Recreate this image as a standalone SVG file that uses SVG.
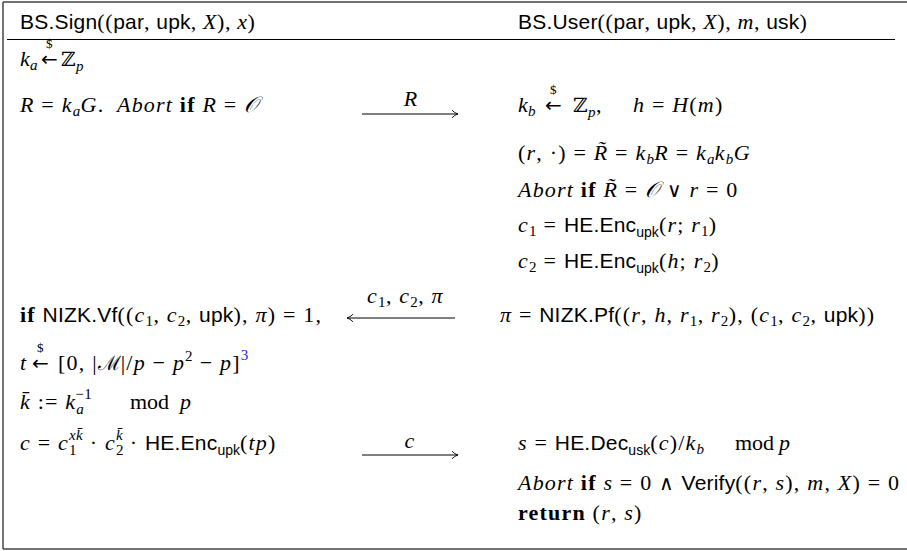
<svg xmlns="http://www.w3.org/2000/svg" width="907" height="551" viewBox="0 0 907 551">
<style>
text{fill:#000;font-family:"Liberation Serif",serif;font-size:22px;letter-spacing:1.2px}
.hd{letter-spacing:0.6px}
.m{font-style:italic}
.s{font-family:"Liberation Sans",sans-serif;font-size:21px;letter-spacing:0.2px}
.b{font-weight:bold}
.sub{font-size:15px;letter-spacing:0.4px}
.ss{font-family:"Liberation Sans",sans-serif;font-size:14px;letter-spacing:0}
.sym{font-family:"DejaVu Serif",serif;font-size:20px;letter-spacing:0}
.op{font-family:"DejaVu Serif",serif;font-size:20px;font-style:normal}
.ar{font-family:"DejaVu Sans",sans-serif;font-size:20px;letter-spacing:0}
.dol{font-size:13px;letter-spacing:0}
.md{letter-spacing:0}
.cite{fill:#1a1aff;font-size:15px}
.frame{stroke:#444;stroke-width:1.5;fill:none}
.conn line{stroke:#000;stroke-width:1}
</style>
<defs>
<marker id="ah" markerWidth="10" markerHeight="10" refX="8" refY="5" orient="auto" markerUnits="userSpaceOnUse">
<path d="M2,1.2 Q4.8,4.2 8,5 Q4.8,5.8 2,8.8" fill="none" stroke="#000" stroke-width="0.9"/>
</marker>
</defs>
<g id="frame">
<line class="frame" x1="3" y1="2" x2="907" y2="2"/>
<line class="frame" x1="3" y1="2" x2="3" y2="549"/>
<line class="frame" x1="3" y1="549" x2="907" y2="549"/>
<line x1="7" y1="39.5" x2="895" y2="39.5" stroke="#000" stroke-width="1"/>
</g>
<g id="signer">
<text class="hd" y="29"><tspan class="s" x="20">BS.Sign</tspan><tspan>((</tspan><tspan class="s">par</tspan><tspan>, </tspan><tspan class="s">upk</tspan><tspan>, </tspan><tspan class="m">X</tspan><tspan>), </tspan><tspan class="m">x</tspan><tspan>)</tspan></text>
<text y="66"><tspan class="m" x="20">k</tspan><tspan class="m sub" x="30" y="70">a</tspan><tspan class="ar" x="41" y="66">←</tspan><tspan class="dol" x="46" y="48">$</tspan><tspan class="sym" x="61" y="66">ℤ</tspan><tspan class="m sub" x="76" y="71">p</tspan></text>
<text y="112"><tspan class="m" x="20">R</tspan><tspan> = </tspan><tspan class="m">k</tspan><tspan class="m sub" y="116">a</tspan><tspan class="m" y="112">G</tspan><tspan>.</tspan><tspan class="m" x="117">Abort</tspan><tspan> </tspan><tspan class="b">if</tspan><tspan> </tspan><tspan class="m">R</tspan><tspan> = </tspan><tspan class="m">𝒪</tspan></text>
<text y="322"><tspan class="b" x="20">if</tspan><tspan> </tspan><tspan class="s">NIZK.Vf</tspan><tspan>((</tspan><tspan class="m">c</tspan><tspan class="sub" y="326">1</tspan><tspan y="322">, </tspan><tspan class="m">c</tspan><tspan class="sub" y="326">2</tspan><tspan y="322">, </tspan><tspan class="s">upk</tspan><tspan>), </tspan><tspan class="m">π</tspan><tspan>) = 1,</tspan></text>
<text y="370"><tspan class="m" x="20">t</tspan><tspan class="ar" x="32">←</tspan><tspan class="dol" x="37" y="352">$</tspan><tspan x="58" y="370">[0, |</tspan><tspan class="sym">ℳ</tspan><tspan>|/</tspan><tspan class="m">p</tspan><tspan> − </tspan><tspan class="m">p</tspan><tspan class="sub" y="361">2</tspan><tspan y="370"> − </tspan><tspan class="m">p</tspan><tspan>]</tspan><tspan class="cite" y="360">3</tspan></text>
<text y="409"><tspan class="m" x="20">k̄</tspan><tspan> := </tspan><tspan class="m">k</tspan><tspan class="m sub" y="414">a</tspan><tspan class="sub" dx="-8.9" y="399">−1</tspan><tspan class="md" x="130" y="409">mod</tspan><tspan class="m" x="180">p</tspan></text>
<text y="450"><tspan class="m" x="20">c</tspan><tspan> = </tspan><tspan class="m">c</tspan><tspan class="sub" y="455">1</tspan><tspan class="m sub" dx="-7.9" y="440">xk̄</tspan><tspan y="450"> · </tspan><tspan class="m">c</tspan><tspan class="sub" y="455">2</tspan><tspan class="m sub" dx="-7.9" y="440">k̄</tspan><tspan y="450"> · </tspan><tspan class="s">HE.Enc</tspan><tspan class="ss" y="455">upk</tspan><tspan y="450">(</tspan><tspan class="m">tp</tspan><tspan>)</tspan></text>
</g>
<g id="user">
<text class="hd" y="29"><tspan class="s" x="518">BS.User</tspan><tspan>((</tspan><tspan class="s">par</tspan><tspan>, </tspan><tspan class="s">upk</tspan><tspan>, </tspan><tspan class="m">X</tspan><tspan>), </tspan><tspan class="m">m</tspan><tspan>, </tspan><tspan class="s">usk</tspan><tspan>)</tspan></text>
<text y="112"><tspan class="m" x="518">k</tspan><tspan class="m sub" x="528" y="116">b</tspan><tspan class="ar" x="545" y="112">←</tspan><tspan class="dol" x="550" y="94">$</tspan><tspan class="sym" x="573" y="112">ℤ</tspan><tspan class="m sub" x="588" y="117">p</tspan><tspan y="112">,</tspan><tspan class="m" x="633">h</tspan><tspan> = </tspan><tspan class="m">H</tspan><tspan>(</tspan><tspan class="m">m</tspan><tspan>)</tspan></text>
<text y="160"><tspan x="518">(</tspan><tspan class="m">r</tspan><tspan>, ·) = </tspan><tspan class="m">R̃</tspan><tspan> = </tspan><tspan class="m">k</tspan><tspan class="m sub" y="164">b</tspan><tspan class="m" y="160">R</tspan><tspan> = </tspan><tspan class="m">k</tspan><tspan class="m sub" y="164">a</tspan><tspan class="m" y="160">k</tspan><tspan class="m sub" y="164">b</tspan><tspan class="m" y="160">G</tspan></text>
<text y="197"><tspan class="m" x="518">Abort</tspan><tspan> </tspan><tspan class="b">if</tspan><tspan> </tspan><tspan class="m">R̃</tspan><tspan> = </tspan><tspan class="m">𝒪</tspan><tspan> </tspan><tspan class="op">∨</tspan><tspan> </tspan><tspan class="m">r</tspan><tspan> = 0</tspan></text>
<text y="232"><tspan class="m" x="518">c</tspan><tspan class="sub" y="236">1</tspan><tspan y="232"> = </tspan><tspan class="s">HE.Enc</tspan><tspan class="ss" y="237">upk</tspan><tspan y="232">(</tspan><tspan class="m">r</tspan><tspan>; </tspan><tspan class="m">r</tspan><tspan class="sub" y="236">1</tspan><tspan y="232">)</tspan></text>
<text y="268"><tspan class="m" x="518">c</tspan><tspan class="sub" y="272">2</tspan><tspan y="268"> = </tspan><tspan class="s">HE.Enc</tspan><tspan class="ss" y="273">upk</tspan><tspan y="268">(</tspan><tspan class="m">h</tspan><tspan>; </tspan><tspan class="m">r</tspan><tspan class="sub" y="272">2</tspan><tspan y="268">)</tspan></text>
<text y="322"><tspan class="m" x="500">π</tspan><tspan> = </tspan><tspan class="s">NIZK.Pf</tspan><tspan>((</tspan><tspan class="m">r</tspan><tspan>, </tspan><tspan class="m">h</tspan><tspan>, </tspan><tspan class="m">r</tspan><tspan class="sub" y="326">1</tspan><tspan y="322">, </tspan><tspan class="m">r</tspan><tspan class="sub" y="326">2</tspan><tspan y="322">), (</tspan><tspan class="m">c</tspan><tspan class="sub" y="326">1</tspan><tspan y="322">, </tspan><tspan class="m">c</tspan><tspan class="sub" y="326">2</tspan><tspan y="322">, </tspan><tspan class="s">upk</tspan><tspan>))</tspan></text>
<text y="450"><tspan class="m" x="518">s</tspan><tspan> = </tspan><tspan class="s">HE.Dec</tspan><tspan class="ss" y="455">usk</tspan><tspan y="450">(</tspan><tspan class="m">c</tspan><tspan>)/</tspan><tspan class="m">k</tspan><tspan class="m sub" y="454">b</tspan><tspan class="md" x="735" y="450">mod</tspan><tspan class="m" x="779">p</tspan></text>
<text y="490"><tspan class="m" x="518">Abort</tspan><tspan> </tspan><tspan class="b">if</tspan><tspan> </tspan><tspan class="m">s</tspan><tspan> = 0 </tspan><tspan class="op">∧</tspan><tspan> </tspan><tspan class="s">Verify</tspan><tspan>((</tspan><tspan class="m">r</tspan><tspan>, </tspan><tspan class="m">s</tspan><tspan>), </tspan><tspan class="m">m</tspan><tspan>, </tspan><tspan class="m">X</tspan><tspan>) = 0</tspan></text>
<text y="520"><tspan class="b" x="518">return</tspan><tspan> (</tspan><tspan class="m">r</tspan><tspan>, </tspan><tspan class="m">s</tspan><tspan>)</tspan></text>
</g>
<g id="connectors" class="conn">
<line x1="362" y1="114" x2="458" y2="114" marker-end="url(#ah)"/>
<text class="m" x="411" y="106" text-anchor="middle">R</text>
<line x1="455" y1="318" x2="347" y2="318" marker-end="url(#ah)"/>
<text y="303"><tspan class="m" x="367">c</tspan><tspan class="sub" y="307">1</tspan><tspan y="303">, </tspan><tspan class="m">c</tspan><tspan class="sub" y="307">2</tspan><tspan y="303">, </tspan><tspan class="m">π</tspan></text>
<line x1="362" y1="455" x2="458" y2="455" marker-end="url(#ah)"/>
<text class="m" x="410" y="448" text-anchor="middle">c</text>
</g>
</svg>
